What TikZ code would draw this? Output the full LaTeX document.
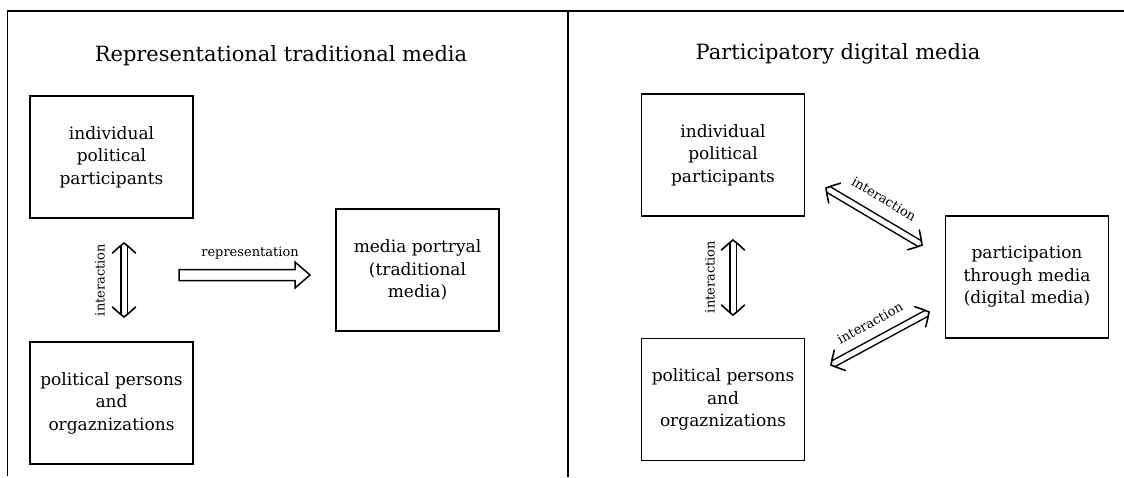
\documentclass[tikz,border=0pt]{standalone}
\usepackage{fontspec}
\setmainfont{DejaVu Serif}
\usetikzlibrary{arrows.meta,calc}
\begin{document}
\begin{tikzpicture}[x=1pt,y=-1pt,
 box/.style={draw, line width=1.5pt, minimum width=163pt, minimum height=122pt, align=center, font=\fontsize{17}{22.5}\selectfont, inner sep=0pt},
 ttl/.style={font=\fontsize{21}{24}\selectfont, inner sep=0pt},
 lbl/.style={font=\fontsize{13}{15}\selectfont, inner sep=1pt},
 dbl/.style={double, double distance=5pt, line width=1.5pt, shorten <=3pt, shorten >=3pt},
 hollow/.style={line width=1.5pt, line join=miter},
 frame/.style={line width=1.8pt},
 chevf/.pic={\draw[line width=1.6pt, line cap=round, line join=miter] (-10,-11.5) .. controls (-4,-5) .. (0,0) .. controls (-4,5) .. (-10,11.5);},
 chevb/.pic={\draw[line width=1.6pt, line cap=round, line join=miter] (10,-11.5) .. controls (4,-5) .. (0,0) .. controls (4,5) .. (10,11.5);},
 tips/.style={allow upside down}]
\useasboundingbox (0,0) rectangle (1124,477);
% frame
\coordinate (fl) at (7,11);
\coordinate (fr) at (1124,11);
\coordinate (fb) at (7.5,476);
\coordinate (mt) at (568,10);
\coordinate (mb) at (568,477);
\draw[frame] (fl) -- (fr);
\draw[frame] (7.5,11) -- (fb);
\draw[frame] (mt) -- (mb);
% titles
\node[ttl] (t1) at (281,56) {Representational traditional media};
\node[ttl] (t2) at (838,54) {Participatory digital media};
% left boxes
\node[box] (a) at (111.5,157) {individual\\political\\participants};
\node[box] (b) at (111.5,403) {political persons\\and\\orgaznizations};
\node[box] (c) at (417.5,270) {media portryal\\(traditional\\media)};
% right boxes
\node[box] (d) at (723,155) {individual\\political\\participants};
\node[box] (e) at (723,399.5) {political persons\\and\\orgaznizations};
\node[box] (f) at (1027,277) {participation\\through media\\(digital media)};
% left arrows
\coordinate (v1a) at (124,243);
\coordinate (v1b) at (124,317);
\draw[dbl] (v1a) -- (v1b);
\path[tips] (v1a) -- pic[pos=0, sloped, allow upside down]{chevb} pic[pos=1, sloped, allow upside down]{chevf} (v1b);
\node[lbl, rotate=90] (l1) at (100,280) {interaction};
\coordinate (h1) at (179,275);
\coordinate (h2) at (310,275);
\draw[hollow] ($(h1)+(0,-5.5)$) -- ($(h2)+(-15,-5.5)$) -- ($(h2)+(-15,-13)$) -- (h2) -- ($(h2)+(-15,13)$) -- ($(h2)+(-15,5.5)$) -- ($(h1)+(0,5.5)$) -- cycle;
\node[lbl] (l2) at (250,253) {representation};
% right arrows
\coordinate (v2a) at (733,240);
\coordinate (v2b) at (733,315);
\draw[dbl] (v2a) -- (v2b);
\path[tips] (v2a) -- pic[pos=0, sloped, allow upside down]{chevb} pic[pos=1, sloped, allow upside down]{chevf} (v2b);
\node[lbl, rotate=90] (l3) at (710,277) {interaction};
\coordinate (d1a) at (826,188);
\coordinate (d1b) at (922,245);
\draw[dbl] (d1a) -- (d1b);
\path[tips] (d1a) -- pic[pos=0, sloped, allow upside down]{chevb} pic[pos=1, sloped, allow upside down]{chevf} (d1b);
\node[lbl, rotate=-30.7] (l4) at (884,199) {interaction};
\coordinate (d2a) at (831,365);
\coordinate (d2b) at (929,312);
\draw[dbl] (d2a) -- (d2b);
\path[tips] (d2a) -- pic[pos=0, sloped, allow upside down]{chevb} pic[pos=1, sloped, allow upside down]{chevf} (d2b);
\node[lbl, rotate=28.4] (l5) at (870,323) {interaction};
\end{tikzpicture}
\end{document}
